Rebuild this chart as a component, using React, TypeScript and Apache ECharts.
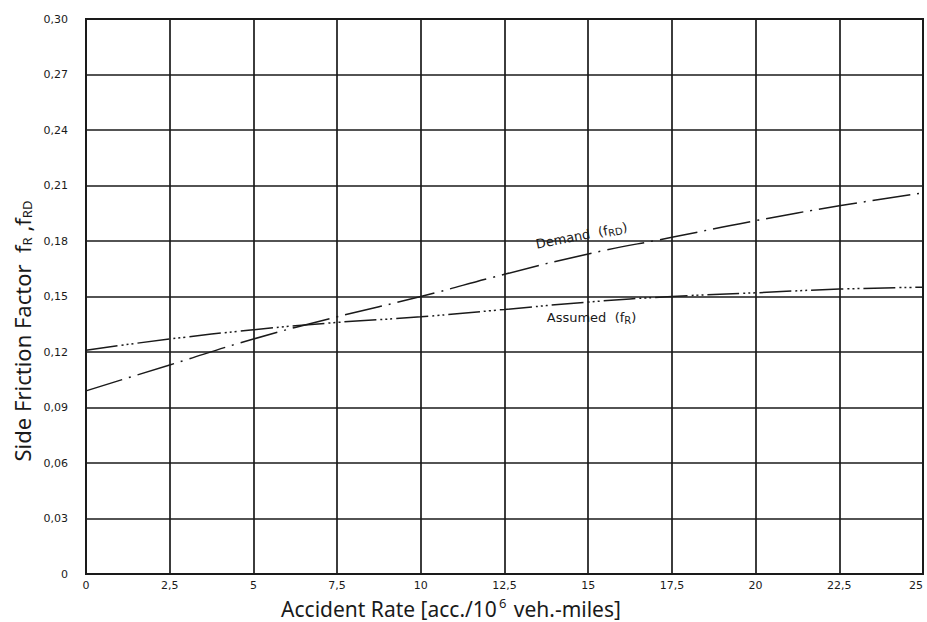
import React, { useEffect, useRef } from "react";
import * as echarts from "echarts";

const accidentRate = [0, 2.5, 5, 7.5, 10, 12.5, 15, 17.5, 20, 22.5, 25];
const demandFactor = [0.099, 0.113, 0.127, 0.139, 0.15, 0.162, 0.173, 0.182, 0.191, 0.199, 0.206];
const assumedFactor = [0.121, 0.127, 0.132, 0.136, 0.139, 0.143, 0.147, 0.15, 0.152, 0.154, 0.155];

const demandLabelAt = [14.8, 0.183];
const assumedLabelAt = [15.1, 0.1385];

const fmtComma = (v: number, d: number) => (v === 0 ? "0" : v.toFixed(d).replace(".", ","));

export default function App() {
  const ref = useRef<HTMLDivElement>(null);
  useEffect(() => {
    document.documentElement.style.overflow = "hidden";
    document.body.style.overflow = "hidden";
    document.body.style.margin = "0";
    const chart = echarts.init(ref.current!, null, { renderer: "svg", width: 927, height: 622 });
    const ink = "#1a1a1a";
    const tickFont = { color: ink, fontFamily: "DejaVu Sans", fontSize: 11 };
    chart.setOption({
      animation: false,
      backgroundColor: "#ffffff",
      grid: { left: 86, top: 19, right: 4, bottom: 48, containLabel: false, outerBoundsMode: "none" },
      xAxis: {
        type: "value",
        min: 0,
        max: 25,
        interval: 2.5,
        axisLine: { show: true, onZero: false, lineStyle: { color: ink, width: 2 } },
        axisTick: { show: false },
        splitLine: { show: true, lineStyle: { color: ink, width: 1.7 } },
        axisLabel: {
          ...tickFont,
          margin: 6,
          alignMaxLabel: "right",
          formatter: (v: number) => (Number.isInteger(v) ? String(v) : fmtComma(v, 1)),
        },
      },
      yAxis: {
        type: "value",
        min: 0,
        max: 0.3,
        interval: 0.03,
        axisLine: { show: true, lineStyle: { color: ink, width: 2 } },
        axisTick: { show: false },
        splitLine: { show: true, lineStyle: { color: ink, width: 1.7 } },
        axisLabel: { ...tickFont, margin: 18, formatter: (v: number) => fmtComma(v, 2) },
      },
      graphic: [
        {
          type: "rect",
          shape: { x: 86, y: 19, width: 837, height: 555 },
          style: { fill: "none", stroke: ink, lineWidth: 2 },
          z: 10,
        },
        {
          type: "text",
          x: 451,
          y: 609,
          style: {
            text: "Accident Rate [acc./10{sup|6} veh.-miles]",
            font: "21px 'Noto Sans'",
            fill: ink,
            align: "center",
            verticalAlign: "middle",
            rich: { sup: { fontSize: 13, fontFamily: "Noto Sans", verticalAlign: "top", padding: [0, 2, 12, 2] } },
          },
        },
        {
          type: "text",
          x: 22,
          y: 331,
          rotation: Math.PI / 2,
          style: {
            text: "Side Friction Factor  f{sub|R} ,f{sub|RD}",
            font: "22px 'Noto Sans'",
            fill: ink,
            align: "center",
            verticalAlign: "middle",
            rich: { sub: { fontSize: 13, fontFamily: "Noto Sans", padding: [10, 0, 0, 0] } },
          },
        },
      ],
      series: [
        {
          type: "line",
          name: "Demand",
          data: accidentRate.map((x, i) => [x, demandFactor[i]]),
          smooth: true,
          symbol: "none",
          lineStyle: { color: ink, width: 1.5, type: [38, 7, 2, 7] },
          markPoint: {
            symbol: "circle",
            symbolSize: 0,
            data: [{ coord: demandLabelAt }],
            label: {
              show: true,
              rotate: 11,
              formatter: "Demand  (f{sub|RD})",
              color: ink,
              fontFamily: "DejaVu Sans",
              fontSize: 13,
              rich: { sub: { fontSize: 10, fontFamily: "DejaVu Sans", padding: [6, 0, 0, 0], color: ink } },
            },
          },
        },
        {
          type: "line",
          name: "Assumed",
          data: accidentRate.map((x, i) => [x, assumedFactor[i]]),
          smooth: true,
          symbol: "none",
          lineStyle: { color: ink, width: 1.5, type: [32, 4, 2, 3, 2, 3, 2, 4] },
          markPoint: {
            symbol: "circle",
            symbolSize: 0,
            data: [{ coord: assumedLabelAt }],
            label: {
              show: true,
              formatter: "Assumed  (f{sub|R})",
              color: ink,
              fontFamily: "DejaVu Sans",
              fontSize: 13,
              rich: { sub: { fontSize: 10, fontFamily: "DejaVu Sans", padding: [6, 0, 0, 0], color: ink } },
            },
          },
        },
      ],
    });
    return () => chart.dispose();
  }, []);
  return (
    <div
      ref={ref}
      style={{ position: "absolute", left: 0, top: 0, width: 927, height: 622 }}
    />
  );
}
